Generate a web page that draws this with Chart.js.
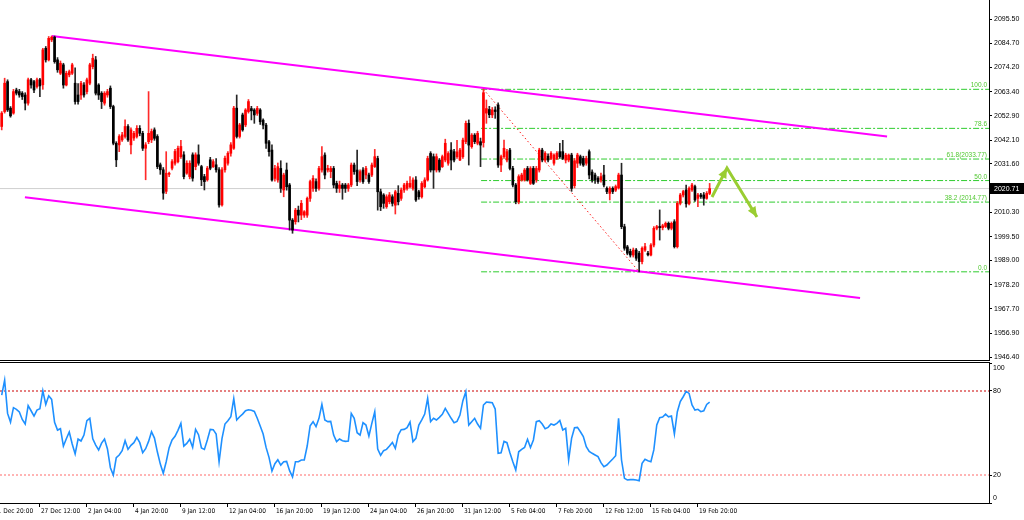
<!DOCTYPE html>
<html>
<head>
<meta charset="utf-8">
<script src="https://cdn.jsdelivr.net/npm/chart.js@4.4.1/dist/chart.umd.min.js"></script>
<style>
  html, body { margin: 0; padding: 0; background: #fff; overflow: hidden; }
  #wrap { position: relative; width: 1024px; height: 520px; }
  #price { position: absolute; left: 0; top: 0; }
  #rsi { position: absolute; left: 0; top: 362px; }
</style>
</head>
<body>
<div id="wrap">
  <canvas id="price" width="1024" height="361"></canvas>
  <canvas id="rsi" width="1024" height="158"></canvas>
</div>
<script>
// H4 candles, one entry per bar
const opens = [
  2048.1, 2054.7, 2067.9, 2056.2, 2054.0, 2064.2, 2063.5, 2062.8, 2062.0, 2058.4,
  2068.7, 2067.9, 2065.7, 2068.7, 2066.5, 2082.6, 2077.5, 2086.3, 2087.5, 2077.5,
  2071.6, 2075.3, 2066.4, 2070.9, 2071.6, 2067.2, 2062.0, 2062.0, 2066.4, 2063.5,
  2067.2, 2074.5, 2077.5, 2066.4, 2062.8, 2058.4, 2062.0, 2065.0, 2056.9, 2040.7,
  2040.0, 2042.2, 2043.7, 2048.1, 2040.0, 2043.0, 2043.7, 2047.3, 2045.1,
  2038.5, 2041.4, 2042.2, 2046.6, 2043.7, 2031.2, 2029.0, 2019.5, 2027.0, 2029.7,
  2031.9, 2032.6, 2034.8, 2035.6, 2027.5, 2026.0, 2035.6, 2030.4, 2035.6,
  2030.4, 2026.0, 2024.6, 2033.4, 2030.4, 2031.2, 2029.0, 2013.5, 2029.0, 2031.9,
  2036.3, 2038.5, 2056.2, 2043.7, 2053.2, 2048.8, 2054.7,
  2056.0, 2055.4, 2053.9, 2055.4, 2050.9, 2048.7, 2041.4, 2037.7, 2025.2, 2024.5,
  2029.6, 2020.1, 2028.9, 2022.3, 2006.8, 2006.1, 2011.2, 2009.0, 2009.0, 2009.0,
  2016.4, 2020.8, 2023.8, 2020.8, 2028.9, 2035.5, 2028.9, 2028.2, 2029.6, 2023.0,
  2020.8, 2022.3, 2022.3, 2020.8, 2022.3, 2031.1, 2028.9, 2024.5, 2028.9, 2026.7,
  2026.7, 2026.7, 2030.4, 2034.0, 2019.3, 2017.9, 2012.7, 2014.9, 2017.1, 2013.4,
  2018.6, 2016.4, 2020.1, 2020.8, 2021.5, 2020.8, 2024.5, 2019.3, 2017.1, 2021.5,
  2024.5, 2036.2, 2034.8, 2028.9, 2033.3, 2030.4, 2033.3, 2031.9, 2037.7, 2037.0,
  2034.8, 2033.3, 2034.8, 2041.4, 2049.5, 2039.2, 2044.3, 2040.7, 2041.4, 2041.0,
  2054.0, 2055.6, 2053.2, 2055.4, 2057.6, 2031.1, 2034.8, 2033.3, 2037.7, 2029.6,
  2022.3, 2014.9, 2024.5, 2024.5, 2029.6, 2023.0, 2029.6, 2024.5, 2028.9, 2037.7,
  2033.3, 2035.0, 2034.0, 2031.9, 2034.0, 2037.0, 2037.0, 2033.3, 2033.3, 2035.5,
  2022.0, 2031.9, 2034.8, 2034.0, 2031.9, 2037.0, 2028.0, 2026.7, 2025.3, 2024.5,
  2026.7, 2020.8, 2018.6, 2020.8, 2020.0, 2021.0, 2026.7, 2003.9, 1995.0, 1993.0,
  1991.4, 1993.6, 1992.2, 1988.5, 1993.6, 1992.2, 1991.4, 1995.8, 2003.2, 2004.0,
  2003.5, 2004.0, 2005.4, 2003.2, 2006.1, 1995.1, 2014.2, 2017.9, 2020.1, 2014.0,
  2020.1, 2021.6, 2016.4, 2017.9, 2017.9, 2016.4, 2018.6
];
const highs = [
  2054.7, 2069.4, 2068.7, 2056.9, 2064.5, 2065.0, 2064.5, 2063.5, 2063.0, 2069.5,
  2069.4, 2068.5, 2069.5, 2069.4, 2082.6, 2083.4, 2087.8, 2088.0, 2088.0, 2078.5,
  2077.0, 2076.0, 2072.5, 2073.0, 2076.0, 2074.0, 2067.0, 2068.0, 2067.5, 2069.5,
  2076.0, 2080.0, 2079.0, 2067.0, 2063.5, 2063.5, 2064.5, 2066.0, 2057.5, 2041.4,
  2044.5, 2045.5, 2051.0, 2049.0, 2047.5, 2046.0, 2048.5, 2048.5, 2046.0,
  2041.0, 2063.5, 2047.0, 2047.5, 2044.5, 2032.0, 2030.0, 2037.0, 2028.0, 2033.5,
  2038.0, 2039.5, 2042.0, 2037.0, 2033.0, 2033.0, 2036.5, 2036.5, 2040.0,
  2031.0, 2027.0, 2030.5, 2034.5, 2033.5, 2034.0, 2030.0, 2030.0, 2035.0, 2037.0,
  2041.0, 2057.0, 2062.0, 2049.5, 2054.0, 2056.0, 2060.0,
  2057.0, 2056.0, 2057.0, 2056.0, 2051.5, 2049.5, 2042.0, 2040.0, 2031.0, 2032.0,
  2033.0, 2027.5, 2032.0, 2023.0, 2007.5, 2012.0, 2013.0, 2015.5, 2011.0, 2017.0,
  2024.5, 2026.5, 2025.0, 2030.5, 2039.2, 2036.5, 2031.0, 2030.5, 2030.5, 2024.0,
  2024.0, 2023.0, 2023.0, 2023.0, 2032.0, 2032.0, 2037.7, 2029.0, 2030.0, 2030.5,
  2027.5, 2032.0, 2038.0, 2035.0, 2020.5, 2018.5, 2018.0, 2019.0, 2018.0, 2020.0,
  2022.0, 2021.0, 2023.0, 2024.0, 2026.0, 2025.5, 2026.0, 2020.0, 2023.8, 2025.5,
  2035.0, 2037.0, 2036.0, 2036.0, 2034.0, 2035.5, 2042.5, 2037.0, 2041.0, 2038.0,
  2042.0, 2038.5, 2043.0, 2050.5, 2051.0, 2045.0, 2045.0, 2046.0, 2043.0, 2064.6,
  2059.8, 2057.0, 2056.5, 2056.8, 2058.5, 2035.5, 2042.1, 2038.0, 2038.5, 2030.5,
  2023.0, 2026.8, 2027.5, 2029.6, 2030.5, 2030.4, 2030.5, 2030.5, 2038.5, 2038.5,
  2037.0, 2036.0, 2037.0, 2036.0, 2037.0, 2040.7, 2042.0, 2036.3, 2036.0, 2036.3,
  2034.0, 2036.3, 2035.5, 2035.0, 2035.0, 2037.8, 2029.0, 2027.5, 2026.0, 2027.5,
  2031.0, 2021.5, 2021.5, 2021.5, 2022.3, 2027.5, 2031.9, 2005.0, 1995.7, 1994.0,
  1994.5, 1994.3, 1993.0, 1995.0, 1996.6, 1993.0, 1996.5, 2004.0, 2004.5, 2011.3,
  2005.0, 2006.0, 2006.0, 2006.0, 2007.0, 2015.0, 2018.6, 2020.0, 2022.3, 2021.5,
  2023.0, 2022.3, 2018.6, 2018.6, 2019.0, 2019.4, 2023.0
];
const lows = [
  2046.6, 2054.0, 2054.7, 2052.2, 2053.5, 2062.0, 2061.0, 2060.0, 2055.4, 2057.5,
  2065.0, 2063.0, 2065.0, 2061.3, 2064.5, 2076.5, 2077.0, 2085.5, 2076.0, 2072.0,
  2071.0, 2065.0, 2066.0, 2070.0, 2071.0, 2058.0, 2058.0, 2060.0, 2061.0, 2062.5,
  2066.5, 2073.5, 2062.0, 2060.0, 2056.0, 2057.5, 2061.0, 2056.0, 2040.0, 2030.4,
  2037.0, 2041.5, 2043.0, 2041.5, 2036.0, 2042.0, 2043.0, 2044.0, 2037.5,
  2024.6, 2040.5, 2041.0, 2042.0, 2029.5, 2027.0, 2016.0, 2018.5, 2026.0, 2029.0,
  2031.0, 2032.0, 2034.0, 2025.0, 2027.0, 2025.0, 2024.0, 2029.0, 2031.0,
  2022.0, 2020.1, 2024.0, 2029.0, 2030.0, 2028.0, 2012.5, 2013.0, 2028.0, 2031.0,
  2035.0, 2038.0, 2043.0, 2043.0, 2046.0, 2048.0, 2054.0,
  2051.0, 2049.5, 2053.0, 2049.0, 2047.0, 2038.4, 2035.0, 2024.0, 2024.0, 2023.5,
  2019.0, 2017.1, 2020.0, 2002.4, 2001.0, 2005.0, 2006.0, 2007.0, 2008.0, 2008.0,
  2015.0, 2019.5, 2019.5, 2020.0, 2028.0, 2025.0, 2028.0, 2025.5, 2021.0, 2019.0,
  2019.0, 2016.0, 2019.0, 2019.5, 2021.5, 2027.0, 2022.0, 2023.5, 2023.0, 2025.0,
  2023.0, 2026.0, 2030.0, 2011.2, 2011.0, 2012.0, 2012.0, 2014.0, 2013.0, 2009.5,
  2013.5, 2015.5, 2019.0, 2020.0, 2021.0, 2020.0, 2015.0, 2016.0, 2016.5, 2021.0,
  2024.0, 2028.0, 2020.8, 2028.0, 2028.0, 2030.0, 2032.5, 2031.0, 2029.0, 2032.5,
  2034.0, 2033.0, 2034.0, 2040.5, 2031.1, 2038.5, 2040.5, 2040.0, 2030.4, 2039.0,
  2049.5, 2052.0, 2052.0, 2051.7, 2030.0, 2028.2, 2034.0, 2032.5, 2029.0, 2021.5,
  2014.0, 2014.0, 2024.0, 2024.0, 2024.0, 2022.5, 2022.5, 2023.5, 2028.0, 2032.5,
  2032.5, 2032.5, 2033.5, 2031.0, 2033.5, 2034.0, 2033.5, 2032.0, 2032.5, 2019.5,
  2021.0, 2030.0, 2031.0, 2030.5, 2031.0, 2025.0, 2023.5, 2023.0, 2023.0, 2023.5,
  2021.5, 2018.5, 2015.7, 2018.5, 2019.4, 2020.5, 2003.0, 1993.5, 1991.5, 1990.5,
  1990.5, 1989.0, 1984.0, 1987.5, 1993.0, 1991.0, 1991.0, 1995.0, 2002.5, 1998.0,
  2002.5, 2003.5, 2002.5, 2002.5, 1994.5, 1994.5, 2013.5, 2017.0, 2012.5, 2013.5,
  2019.5, 2015.0, 2012.7, 2016.4, 2013.4, 2016.0, 2018.0
];
const closes = [
  2054.0, 2067.2, 2055.4, 2052.8, 2063.5, 2062.8, 2062.0, 2061.3, 2058.4, 2068.7,
  2066.4, 2064.2, 2068.7, 2066.0, 2081.9, 2077.5, 2087.0, 2087.5, 2076.7, 2073.1,
  2076.0, 2066.4, 2071.6, 2072.3, 2075.3, 2059.1, 2059.1, 2067.2, 2062.0, 2068.7,
  2075.3, 2078.2, 2062.8, 2062.0, 2059.1, 2062.8, 2063.5, 2056.9, 2040.7, 2033.4,
  2043.7, 2044.4, 2048.1, 2042.2, 2046.6, 2045.1, 2047.3, 2045.1, 2038.5,
  2040.0, 2045.1, 2045.9, 2042.9, 2030.4, 2029.0, 2018.7, 2027.5, 2027.5, 2032.6,
  2037.1, 2038.5, 2039.3, 2026.0, 2031.9, 2031.9, 2025.3, 2035.6, 2031.9,
  2024.6, 2023.8, 2029.7, 2029.7, 2032.6, 2029.0, 2013.5, 2029.0, 2034.1, 2036.3,
  2040.0, 2056.2, 2043.7, 2048.8, 2046.6, 2055.4, 2059.1,
  2055.0, 2053.2, 2056.1, 2050.2, 2048.7, 2040.7, 2037.0, 2024.5, 2029.6, 2030.4,
  2020.8, 2026.7, 2021.5, 2006.8, 2002.4, 2011.2, 2009.0, 2014.2, 2010.5, 2016.4,
  2023.8, 2025.2, 2020.8, 2029.6, 2034.8, 2026.7, 2029.6, 2029.6, 2022.3, 2020.8,
  2022.3, 2020.8, 2020.8, 2022.3, 2031.1, 2028.2, 2023.8, 2028.2, 2023.8, 2029.6,
  2023.8, 2031.1, 2034.8, 2019.3, 2012.7, 2014.2, 2017.1, 2017.9, 2014.2, 2019.3,
  2014.9, 2020.1, 2022.3, 2023.0, 2023.0, 2024.5, 2015.7, 2017.1, 2023.0, 2024.5,
  2034.0, 2028.9, 2028.9, 2034.8, 2028.9, 2034.8, 2040.7, 2036.2, 2033.3, 2033.3,
  2036.9, 2037.7, 2042.1, 2049.5, 2039.9, 2044.3, 2041.4, 2045.1, 2039.9, 2063.0,
  2056.0, 2053.3, 2055.4, 2054.7, 2031.1, 2034.8, 2038.5, 2037.0, 2029.6, 2022.3,
  2014.9, 2026.0, 2026.7, 2028.9, 2024.5, 2029.6, 2023.0, 2029.6, 2037.7, 2033.3,
  2036.3, 2033.3, 2036.3, 2035.5, 2036.3, 2034.8, 2034.0, 2035.5, 2035.5, 2020.8,
  2033.0, 2035.5, 2031.9, 2031.1, 2034.0, 2026.7, 2024.5, 2024.5, 2023.8, 2026.0,
  2022.3, 2019.4, 2020.8, 2019.4, 2021.6, 2026.7, 2003.9, 1994.4, 1992.2, 1991.4,
  1993.6, 1990.0, 1988.5, 1994.4, 1995.1, 1991.5, 1995.8, 2003.2, 2003.9, 2003.5,
  2004.3, 2005.4, 2003.2, 2005.4, 1995.1, 2014.2, 2017.9, 2019.4, 2014.0, 2020.8,
  2022.3, 2015.7, 2017.9, 2017.2, 2016.4, 2018.6, 2020.71
];

// RSI, one value per bar
const rsiValues = [
  77.1, 87.8, 64.0, 57.8, 68.1, 66.9, 65.0, 59.7, 56.4, 69.5,
  65.9, 62.1, 66.4, 67.3, 80.2, 70.4, 76.6, 74.0, 57.6, 52.1,
  53.1, 40.7, 45.9, 50.7, 42.1, 35.0, 45.7, 44.3, 48.5, 58.8,
  60.5, 45.9, 41.4, 37.9, 42.8, 45.7, 38.6, 25.2, 20.0, 32.4,
  34.3, 37.4, 44.5, 38.3, 41.2, 43.1, 46.9, 43.1, 35.9, 38.8,
  44.0, 50.9, 46.4, 36.4, 27.8, 21.2, 29.5, 39.5, 45.0, 47.6,
  51.9, 56.9, 40.7, 42.6, 45.5, 39.7, 52.6, 48.8, 39.3, 38.3,
  45.0, 52.6, 52.4, 49.3, 29.5, 46.2, 56.4, 58.8, 61.6, 74.5,
  59.3, 61.6, 63.5, 65.9, 66.6, 66.2, 65.4, 60.5, 55.0, 49.3,
  39.7, 32.6, 22.8, 28.1, 30.9, 27.1, 29.5, 29.7, 23.1, 18.6,
  29.5, 29.5, 30.7, 30.7, 40.7, 55.2, 58.1, 54.5, 60.5, 70.4,
  59.3, 58.1, 58.3, 48.5, 43.8, 45.7, 44.5, 44.0, 44.3, 64.0,
  60.5, 50.2, 48.5, 57.4, 55.7, 47.8, 56.9, 65.2, 38.6, 34.0,
  37.4, 38.3, 40.7, 43.3, 39.0, 48.5, 52.4, 52.6, 53.8, 57.8,
  43.8, 46.2, 55.7, 59.3, 63.5, 74.7, 58.1, 60.5, 59.3, 61.2,
  63.3, 67.6, 64.0, 60.5, 57.4, 58.3, 62.8, 73.1, 79.5, 55.7,
  58.1, 60.5, 56.4, 53.3, 70.0, 72.1, 71.9, 71.6, 67.1, 35.5,
  35.9, 44.0, 43.1, 35.9, 29.5, 23.6, 36.6, 38.3, 39.7, 45.5,
  39.7, 45.0, 58.1, 58.8, 56.4, 53.1, 54.0, 56.4, 55.7, 56.9,
  59.0, 52.1, 53.3, 30.7, 46.2, 53.8, 54.0, 50.9, 47.4, 40.2,
  36.9, 35.5, 34.3, 33.1, 28.8, 25.9, 27.1, 29.3, 31.4, 33.8,
  60.5, 30.7, 17.6, 16.4, 16.7, 16.7, 16.4, 15.9, 28.3, 31.2,
  30.2, 29.5, 37.9, 55.7, 60.9, 61.4, 63.5, 61.6, 62.1, 49.3,
  65.2, 72.4, 75.9, 79.7, 78.3, 70.0, 66.4, 66.9, 65.2, 65.9,
  70.4, 72.0
];

const priceTicks = [2095.5, 2084.7, 2074.2, 2063.4, 2052.9, 2042.1, 2031.6,
  2010.3, 1999.5, 1989.0, 1978.2, 1967.7, 1956.9, 1946.4];
const rsiTicks = [100, 80, 20, 0];
const rsiLevels = [80, 20];

const timeLabels = ['21 Dec 20:00', '27 Dec 12:00', '2 Jan 04:00', '4 Jan 20:00', '9 Jan 12:00',
  '12 Jan 04:00', '16 Jan 20:00', '19 Jan 12:00', '24 Jan 04:00', '26 Jan 20:00', '31 Jan 12:00',
  '5 Feb 04:00', '7 Feb 20:00', '12 Feb 12:00', '15 Feb 04:00', '19 Feb 20:00'];
const timeTickBars = [-3, 13, 29, 45, 61, 77, 93, 109, 125, 141, 157, 173, 189, 205, 221, 237];

// drawn objects: bar index / price anchors
const channelTop = [{x: 17, y: 2088.0}, {x: 301.4, y: 2043.7}];
const channelBottom = [{x: 7.9, y: 2016.9}, {x: 292.2, y: 1972.4}];
const fibHighBar = 164, fibHigh = 2064.5;
const fibLowBar = 217, fibLow = 1984.0;
const fibPercents = [100, 78.6, 61.8, 50, 38.2, 0];
const fibTexts = ['100.0', '78.6', '61.8(2033.77)', '50.0', '38.2 (2014.77)', '0.0'];
const arrowPath = [{x: 241.8, y: 2017.0}, {x: 246.9, y: 2029.8}, {x: 257.1, y: 2008.2}];

const X_MIN = -0.58, X_MAX = 336.1;
const FONT = '"Liberation Sans", Arial, sans-serif';
const NARROW = '"Liberation Sans Narrow", "DejaVu Sans Condensed", "Liberation Sans", sans-serif';

const idx = closes.map((_, i) => i);
const isUp = idx.map(i => closes[i] >= opens[i]);
const bid = closes[closes.length - 1];

function seg(points, color, width, dash, order) {
  return {
    type: 'line', data: points, borderColor: color, borderWidth: width,
    borderDash: dash || [], pointRadius: 0, fill: false, tension: 0, order: order
  };
}

function arrowHead(ctx, from, to, color) {
  const a = Math.atan2(to.y - from.y, to.x - from.x), len = 11, spread = 0.42;
  ctx.beginPath();
  ctx.moveTo(to.x, to.y);
  ctx.lineTo(to.x - len * Math.cos(a - spread), to.y - len * Math.sin(a - spread));
  ctx.lineTo(to.x - len * Math.cos(a + spread), to.y - len * Math.sin(a + spread));
  ctx.closePath();
  ctx.fillStyle = color;
  ctx.fill();
}

const fibSets = fibPercents.map(p => {
  const v = fibLow + p / 100 * (fibHigh - fibLow);
  return seg([{x: fibHighBar - 0.8, y: v}, {x: X_MAX, y: v}], '#2ecc2e', 1, [6, 2, 2, 2], 6);
});

const priceExtras = {
  id: 'priceExtras',
  afterDatasetsDraw(chart) {
    const {ctx} = chart;
    const xs = chart.scales.x, ys = chart.scales.y;
    const p = arrowPath.map(a => ({x: xs.getPixelForValue(a.x), y: ys.getPixelForValue(a.y)}));
    ctx.save();
    arrowHead(ctx, p[0], p[1], '#9acd32');
    arrowHead(ctx, p[1], p[2], '#9acd32');
    ctx.restore();
  },
  afterDraw(chart) {
    const {ctx, chartArea} = chart;
    const ys = chart.scales.y;
    ctx.save();
    // panel bottom frame
    ctx.fillStyle = '#000';
    ctx.fillRect(0, chartArea.bottom, chartArea.right + 1, 1);
    // fibo level captions
    ctx.font = '6.5px ' + FONT;
    ctx.fillStyle = '#52c832';
    ctx.textAlign = 'right';
    ctx.textBaseline = 'bottom';
    fibPercents.forEach((p, k) => {
      const y = ys.getPixelForValue(fibLow + p / 100 * (fibHigh - fibLow));
      ctx.fillText(fibTexts[k], chartArea.right - 2, y - 0.5);
    });
    // current price box
    const yb = Math.round(ys.getPixelForValue(bid));
    ctx.fillStyle = '#000';
    ctx.fillRect(chartArea.right + 1, yb - 6, 35, 11);
    ctx.fillStyle = '#fff';
    ctx.font = '7px ' + FONT;
    ctx.textAlign = 'left';
    ctx.textBaseline = 'middle';
    ctx.fillText(bid.toFixed(2), chartArea.right + 5, yb);
    ctx.restore();
  }
};

new Chart(document.getElementById('price'), {
  type: 'bar',
  data: {
    datasets: [
      {
        data: idx.map(i => ({x: i, y: [lows[i], highs[i]]})),
        backgroundColor: idx.map(i => isUp[i] ? '#ff2a2a' : '#262626'),
        barThickness: 1, grouped: false, order: 3
      },
      {
        data: idx.map(i => ({x: i, y: [opens[i], closes[i]]})),
        backgroundColor: idx.map(i => isUp[i] ? '#ff0000' : '#000000'),
        barThickness: 2, minBarLength: 1, grouped: false, order: 2
      },
      seg([{x: X_MIN, y: bid}, {x: X_MAX, y: bid}], '#cfcfcf', 1, [], 8),
      ...fibSets,
      seg([{x: fibHighBar, y: fibHigh}, {x: fibLowBar, y: fibLow}], '#ff1a1a', 1, [1.5, 2.5], 5),
      seg(channelTop, '#ff00ff', 2, [], 4),
      seg(channelBottom, '#ff00ff', 2, [], 4),
      seg(arrowPath, '#9acd32', 3, [], 0)
    ]
  },
  options: {
    responsive: false,
    animation: false,
    devicePixelRatio: 1,
    layout: {padding: {top: 0, bottom: 1, left: 0, right: 0}},
    plugins: {legend: {display: false}, tooltip: {enabled: false}},
    scales: {
      x: {type: 'linear', display: false, min: X_MIN, max: X_MAX, offset: false},
      y: {
        position: 'right', min: 1945.1, max: 2103.9, beginAtZero: false,
        grid: {drawOnChartArea: false, drawTicks: true, tickLength: 3, color: '#000'},
        border: {display: true, color: '#000'},
        ticks: {
          color: '#000', padding: 2, font: {family: FONT, size: 7},
          callback: v => Number(v).toFixed(2)
        },
        afterBuildTicks: s => { s.ticks = priceTicks.map(v => ({value: v})); },
        afterFit: s => { s.width = 35; s.paddingTop = 0; s.paddingBottom = 0; }
      }
    }
  },
  plugins: [priceExtras]
});

const rsiExtras = {
  id: 'rsiExtras',
  afterDraw(chart) {
    const {ctx, chartArea} = chart;
    const ys = chart.scales.y;
    ctx.save();
    ctx.fillStyle = '#000';
    ctx.fillRect(0, 0, chartArea.right + 1, 1);
    ctx.font = '7px ' + FONT;
    ctx.textAlign = 'left';
    ctx.textBaseline = 'middle';
    rsiTicks.forEach(v => {
      const y = Math.min(Math.max(ys.getPixelForValue(v), chartArea.top + 5), chartArea.bottom - 5);
      ctx.fillText(String(v), chartArea.right + 4, y);
    });
    ctx.restore();
  }
};

new Chart(document.getElementById('rsi'), {
  type: 'line',
  data: {
    datasets: [
      seg([{x: X_MIN, y: rsiLevels[0]}, {x: X_MAX, y: rsiLevels[0]}], '#cc0000', 1, [2, 2], 3),
      seg([{x: X_MIN, y: rsiLevels[1]}, {x: X_MAX, y: rsiLevels[1]}], '#ff6a6a', 1, [2, 2], 3),
      {
        data: idx.map(i => ({x: i, y: rsiValues[i]})),
        borderColor: '#1e90ff', borderWidth: 1.6, pointRadius: 0, tension: 0, fill: false, order: 0
      }
    ]
  },
  options: {
    responsive: false,
    animation: false,
    devicePixelRatio: 1,
    layout: {padding: {top: 1, bottom: 0, left: 0, right: 0}},
    plugins: {legend: {display: false}, tooltip: {enabled: false}},
    scales: {
      x: {
        type: 'linear', min: X_MIN, max: X_MAX, offset: false, position: 'bottom',
        grid: {drawOnChartArea: false, drawTicks: true, tickLength: 4, color: '#000'},
        border: {display: true, color: '#000'},
        ticks: {
          autoSkip: false, maxRotation: 0, minRotation: 0, align: 'start', labelOffset: 1,
          padding: 0, color: '#000', font: {family: NARROW, size: 6.5},
          callback: (v, i) => timeLabels[i]
        },
        afterBuildTicks: s => { s.ticks = timeTickBars.map(v => ({value: v})); },
        afterFit: s => { s.height = 17; s.paddingLeft = 0; s.paddingRight = 0; }
      },
      y: {
        position: 'right', min: 0, max: 100,
        grid: {drawOnChartArea: false, drawTicks: true, tickLength: 3, color: '#000'},
        border: {display: true, color: '#000'},
        ticks: {display: false},
        afterBuildTicks: s => { s.ticks = rsiTicks.map(v => ({value: v})); },
        afterFit: s => { s.width = 35; s.paddingTop = 0; s.paddingBottom = 0; }
      }
    }
  },
  plugins: [rsiExtras]
});
</script>
</body>
</html>
